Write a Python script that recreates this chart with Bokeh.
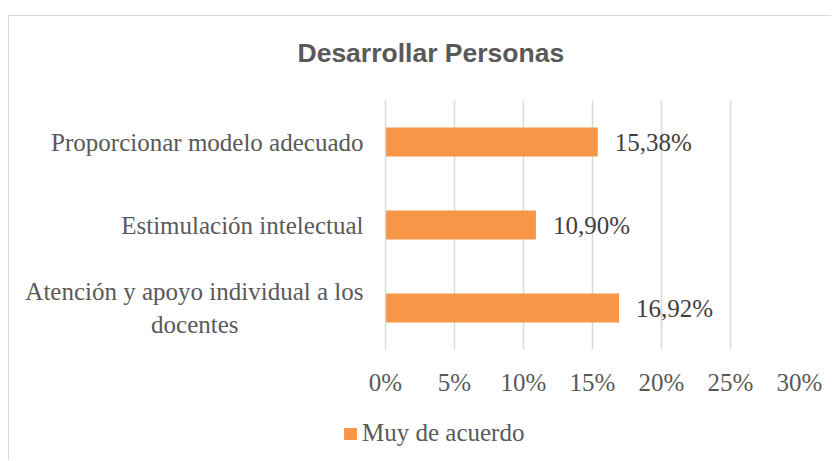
from bokeh.plotting import figure
from bokeh.layouts import column, row
from bokeh.models import (ColumnDataSource, FactorRange, FixedTicker, PrintfTickFormatter,
                          CustomJSTickFormatter, LabelSet, Legend, LegendItem, Range1d,
                          Spacer)
from bokeh.embed import file_html
from bokeh.resources import INLINE
from bokeh.core.properties import value

title_text = "Desarrollar Personas"
series_name = "Muy de acuerdo"
categories = ["Atención y apoyo individual a los docentes",
              "Estimulación intelectual",
              "Proporcionar modelo adecuado"]
# how the long category label is wrapped (second line centred under the first)
wrapped_label = "Atención y apoyo individual a los\ndocentes" + "\u00a0" * 20
values = [16.92, 10.90, 15.38]
x_ticks = [0, 5, 10, 15, 20, 25, 30]
value_labels = [f"{v:.2f}%".replace(".", ",") for v in values]

SERIF = "Liberation Serif"
SANS = "Liberation Sans"
GRAY = "#595959"
GRID = "#D9D9D9"
ORANGE = "#F79646"

src = ColumnDataSource(dict(cat=categories, val=values, lab=value_labels))

p = figure(width=822, height=390,
           y_range=FactorRange(factors=categories, range_padding=0),
           x_range=Range1d(0, 30),
           output_backend="svg", toolbar_location=None,
           min_border_left=376, min_border_right=32,
           min_border_top=84, min_border_bottom=57)

r = p.hbar(y="cat", right="val", height=0.35, source=src,
           fill_color=ORANGE, line_color=None)

p.add_layout(LabelSet(x="val", y="cat", text="lab", source=src, x_offset=17,
                      text_baseline="middle", text_align="left",
                      text_font=value(SERIF), text_font_size=value("25px"),
                      text_color="#404040"))

p.title.text = title_text
p.title.align = "left"
p.title.offset = -88
p.title.text_font = SANS
p.title.text_font_style = "bold"
p.title.text_font_size = "26.5px"
p.title.text_color = GRAY
p.title.standoff = 0
p.title.padding = dict(left=0, right=0, top=0, bottom=33)

p.xaxis.ticker = FixedTicker(ticks=x_ticks)
p.xaxis.formatter = PrintfTickFormatter(format="%d%%")
p.xaxis.axis_line_color = None
p.xaxis.major_tick_line_color = None
p.xaxis.minor_tick_line_color = None
p.xaxis.major_label_text_font = SERIF
p.xaxis.major_label_text_font_size = "25px"
p.xaxis.major_label_text_color = GRAY
p.xaxis.major_label_standoff = 13

p.yaxis.axis_line_color = GRID
p.yaxis.axis_line_width = 1.5
p.yaxis.major_tick_line_color = None
p.yaxis.minor_tick_line_color = None
p.yaxis.major_label_text_font = SERIF
p.yaxis.major_label_text_font_size = "25px"
p.yaxis.major_label_text_color = GRAY
p.yaxis.major_label_standoff = 16
p.yaxis.formatter = CustomJSTickFormatter(
    args=dict(long_name=categories[0], wrapped=wrapped_label),
    code="return tick == long_name ? wrapped : tick")

p.xgrid.grid_line_color = GRID
p.xgrid.grid_line_width = 1.5
p.ygrid.grid_line_color = None
p.outline_line_color = None

# legend strip below the chart (its series renderer has zero bar height, so only the key shows)
p2 = figure(width=489, height=54,
            y_range=FactorRange(factors=categories), x_range=Range1d(0, 30),
            x_axis_type=None, y_axis_type=None,
            output_backend="svg", toolbar_location=None,
            min_border_left=0, min_border_right=0, min_border_top=13, min_border_bottom=0)
p2.grid.visible = False
p2.outline_line_color = None
leg_r = p2.hbar(y="cat", right="val", height=0, source=src,
                fill_color=ORANGE, line_color=None)
legend = Legend(items=[LegendItem(label=series_name, renderers=[leg_r])],
                location="top_left", glyph_width=16, glyph_height=15,
                label_standoff=4, padding=0, margin=0,
                border_line_color=None, background_fill_alpha=0,
                label_text_font=SERIF, label_text_font_size="25px",
                label_text_color=GRAY)
p2.add_layout(legend, "center")

layout = column(p, row(Spacer(width=333, height=54), p2, spacing=0), spacing=0)
layout.styles = {"margin-top": "15px", "margin-left": "8px",
                 "border-top": f"1px solid {GRID}",
                 "border-left": f"1px solid {GRID}"}

open("out.html", "w").write(file_html(layout, INLINE))
